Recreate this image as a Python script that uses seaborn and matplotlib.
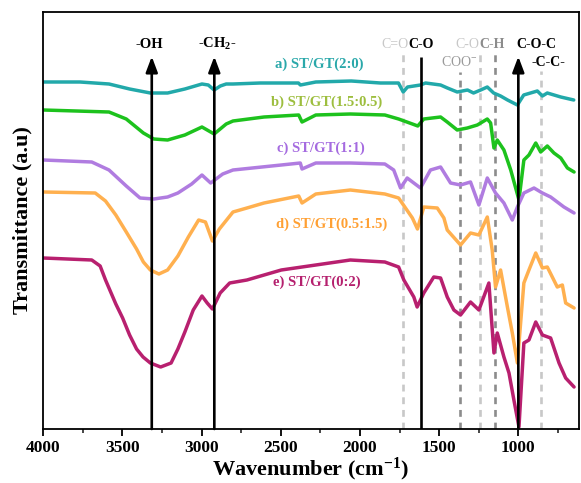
import numpy as np
import pandas as pd
import matplotlib
matplotlib.use('Agg')
import matplotlib.pyplot as plt
from matplotlib.ticker import MultipleLocator
import seaborn as sns

# ---- data (transmittance in arbitrary units) ----
wn_a = [4000, 3768, 3585, 3455, 3324, 3215, 3106, 2998, 2958, 2921, 2882, 2845, 2802, 2630, 2389, 2376,
        2279, 2055, 1871, 1757, 1727, 1700, 1618, 1586, 1491, 1448, 1386, 1321, 1283, 1238, 1196, 1156,
        1112, 1068, 1006, 966, 880, 848, 817, 732, 650]
t_a = [347, 347, 345, 340, 336, 336, 340, 345, 344, 339, 343, 345, 345, 346, 346, 344,
       347, 348, 346, 346, 337, 342, 344, 346, 344, 341, 337, 339, 336, 339, 342, 336,
       333, 329, 324, 334, 338, 333, 336, 332, 329]

wn_b = [4000, 3585, 3476, 3368, 3302, 3215, 3106, 2998, 2921, 2845, 2802, 2606, 2387, 2366, 2279, 2061,
        1843, 1756, 1669, 1635, 1597, 1491, 1449, 1386, 1322, 1259, 1196, 1175, 1154, 1133, 1091, 1048,
        996, 965, 933, 890, 859, 817, 775, 732, 690, 648]
t_b = [319, 317, 310, 296, 290, 289, 294, 302, 295, 305, 308, 312, 314, 307, 314, 315,
       314, 310, 305, 303, 310, 312, 307, 299, 301, 304, 310, 306, 281, 289, 279, 259,
       229, 269, 274, 286, 277, 283, 276, 271, 261, 257]

wn_c = [4000, 3694, 3585, 3476, 3389, 3302, 3215, 3150, 3063, 2998, 2943, 2867, 2802, 2497, 2377, 2366,
        2279, 2061, 1843, 1787, 1744, 1702, 1618, 1555, 1491, 1428, 1365, 1302, 1249, 1196, 1144, 1091,
        1038, 1006, 965, 901, 848, 796, 712, 648]
t_c = [269, 267, 259, 243, 231, 230, 232, 236, 245, 254, 246, 255, 259, 264, 266, 260,
       266, 266, 265, 259, 241, 251, 241, 259, 262, 246, 244, 247, 224, 251, 236, 226,
       209, 222, 236, 241, 236, 232, 222, 216]

wn_d = [4000, 3672, 3607, 3542, 3476, 3411, 3368, 3324, 3270, 3215, 3150, 3084, 3019, 2976, 2932, 2888,
        2802, 2714, 2606, 2387, 2366, 2279, 2061, 1843, 1756, 1669, 1637, 1597, 1512, 1470, 1449, 1365,
        1302, 1249, 1196, 1165, 1144, 1112, 1069, 1038, 1006, 965, 933, 890, 848, 817, 754, 722,
        701, 648]
t_d = [237, 236, 228, 214, 197, 180, 167, 159, 155, 159, 173, 192, 209, 207, 188, 200,
       217, 221, 226, 233, 226, 235, 239, 235, 231, 211, 200, 222, 221, 211, 199, 184,
       196, 194, 212, 179, 142, 159, 122, 96, 66, 146, 159, 176, 161, 162, 142, 144,
       126, 121]

wn_e = [4000, 3694, 3641, 3607, 3542, 3499, 3455, 3411, 3370, 3324, 3259, 3193, 3150, 3106, 3053, 2998,
        2965, 2932, 2883, 2823, 2714, 2497, 2279, 2061, 1843, 1756, 1723, 1660, 1639, 1597, 1534, 1491,
        1449, 1407, 1365, 1302, 1249, 1186, 1154, 1133, 1091, 1059, 1028, 996, 965, 933, 890, 848,
        796, 743, 701, 648]
t_e = [171, 169, 163, 149, 125, 111, 94, 80, 72, 66, 62, 66, 80, 97, 119, 133,
       126, 120, 136, 146, 149, 159, 164, 169, 167, 162, 149, 132, 122, 136, 152, 151,
       132, 119, 114, 127, 119, 146, 76, 96, 72, 56, 29, 2, 86, 89, 107, 94,
       91, 66, 51, 42]

samples = ['a) ST/GT(2:0)', 'b) ST/GT(1.5:0.5)', 'c) ST/GT(1:1)', 'd) ST/GT(0.5:1.5)', 'e) ST/GT(0:2)']
line_colors = ['#22A9AA', '#1DC21D', '#B07CE0', '#FFB04F', '#B8206F']
text_colors = ['#2AA8AA', '#9DBE3E', '#A56BE0', '#FFA033', '#B5206E']
label_x = [2256, 2212, 2250, 2181, 2272]
label_y = [365, 327, 281, 205, 147]

band_wn = [3315, 2920, 1730, 1615, 1370, 1240, 1145, 1000, 855]
band_kind = ['arrow', 'arrow', 'light', 'solid', 'dark', 'light', 'dark', 'arrow', 'light']
band_top = [372.5, 372.5, 377, 372.5, 357, 377, 377, 372.5, 358]
band_text = ['-OH', '-CH$_\\mathbf{2}$-', 'C=O', 'C-O', 'COO$^{-}$', 'C-O', 'C-H', 'C-O-C', '-C-C-']
band_text_x = [3332, 2902, 1776, 1612, 1371, 1321, 1163, 885, 811]
band_text_y = [385, 385, 385, 385, 366.5, 385, 385, 385, 366.5]
band_text_size = [10.5, 10.5, 10, 10, 10, 10, 10, 10, 10]
band_text_color = ['black', 'black', '#C8C8C8', 'black', '#9A9A9A', '#C8C8C8', '#8C8C8C', 'black', 'black']
band_text_weight = ['bold', 'bold', 'normal', 'bold', 'normal', 'normal', 'bold', 'bold', 'bold']

x_ticks = [4000, 3500, 3000, 2500, 2000, 1500, 1000]

# ---- build table ----
frames = []
for name, w, t in zip(samples, [wn_a, wn_b, wn_c, wn_d, wn_e], [t_a, t_b, t_c, t_d, t_e]):
    frames.append(pd.DataFrame({'wn': w, 'T': t, 'sample': name}))
df = pd.concat(frames, ignore_index=True)

sns.set_theme(style='white')
plt.rcParams['font.family'] = ['Liberation Serif', 'DejaVu Serif']
plt.rcParams['font.weight'] = 'bold'
plt.rcParams['mathtext.fontset'] = 'custom'
plt.rcParams['mathtext.rm'] = 'Liberation Serif:bold'
plt.rcParams['mathtext.bf'] = 'Liberation Serif:bold'
plt.rcParams['mathtext.it'] = 'Liberation Serif:bold:italic'

fig = plt.figure(figsize=(5.81, 4.83), dpi=100)
ax = fig.add_axes([43.3 / 581, 54 / 483, (578.5 - 43.3) / 581, (429 - 11.7) / 483])

# dashed reference lines (beneath curves)
for w, k, top in zip(band_wn, band_kind, band_top):
    if k == 'light':
        ax.plot([w, w], [0, top], color='#C8C8C8', lw=1.9, ls=(0, (2.6, 2.2)), zorder=1)
    elif k == 'dark':
        ax.plot([w, w], [0, top], color='#8C8C8C', lw=1.9, ls=(0, (2.6, 2.2)), zorder=1)

sns.lineplot(data=df, x='wn', y='T', hue='sample', palette=dict(zip(samples, line_colors)),
             estimator=None, sort=False, lw=2.5, legend=False, ax=ax, zorder=2)

# solid black lines / arrows
for w, k, top in zip(band_wn, band_kind, band_top):
    if k == 'solid':
        ax.plot([w, w], [0, top], color='black', lw=1.9, zorder=3, solid_capstyle='butt')
    elif k == 'arrow':
        ax.annotate('', xy=(w, top), xytext=(w, 0),
                    arrowprops=dict(arrowstyle='-|>,head_length=0.85,head_width=0.32',
                                    mutation_scale=11, lw=1.9, color='black',
                                    shrinkA=0, shrinkB=0), zorder=3)

for s, c, x, y in zip(samples, text_colors, label_x, label_y):
    ax.text(x, y, s, color=c, fontsize=10.5, fontweight='bold', ha='center', va='center')

for s, x, y, c, fw, fs in zip(band_text, band_text_x, band_text_y, band_text_color,
                              band_text_weight, band_text_size):
    ax.text(x, y, s, color=c, fontsize=fs, fontweight=fw, ha='center', va='center')

ax.set_xlim(4000, 620)
ax.set_ylim(0, 417.3)
ax.set_xticks(x_ticks)
ax.set_xticklabels([str(v) for v in x_ticks])
ax.xaxis.set_minor_locator(MultipleLocator(250))
ax.set_yticks([])
ax.tick_params(axis='x', which='major', direction='out', length=5, width=1.3,
               labelsize=12.5, colors='black', pad=3, bottom=True)
ax.tick_params(axis='x', which='minor', direction='out', length=3, width=1.2, bottom=True)
for lab in ax.get_xticklabels():
    lab.set_fontweight('bold')
for sp in ax.spines.values():
    sp.set_color('black')
    sp.set_linewidth(1.3)

ax.set_xlabel('Wavenumber (cm$^{\\mathbf{-1}}$)', fontsize=16, fontweight='bold', labelpad=0, color='black')
ax.set_ylabel('Transmittance (a.u)', fontsize=16, fontweight='bold', labelpad=8, color='black')

fig.savefig('out.png', dpi=100)
